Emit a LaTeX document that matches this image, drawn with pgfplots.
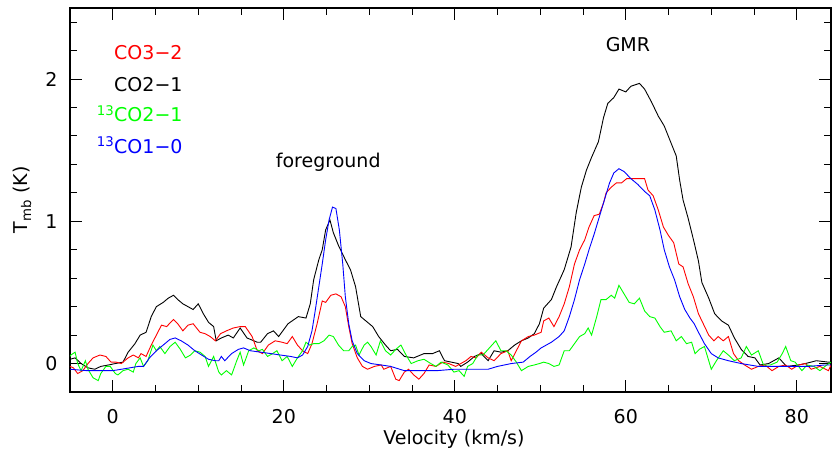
\documentclass[border=0pt]{standalone}
\usepackage{fontspec}
\setmainfont{DejaVu Sans}
\usepackage{pgfplots}
\pgfplotsset{compat=1.18}
\begin{document}
\fontsize{19}{23}\selectfont
\begin{tikzpicture}
\useasboundingbox (-70pt,-60pt) rectangle (762pt,392pt);
\begin{axis}[
  at={(0,0)}, anchor=south west,
  scale only axis, width=761pt, height=384pt,
  xmin=-5, xmax=84, ymin=-0.2, ymax=2.5,
  xtick={0,20,40,60,80}, minor xtick={-5,5,10,15,25,30,35,45,50,55,65,70,75},
  ytick={0,1,2}, minor ytick={-0.2,0.2,0.4,0.6,0.8,1.2,1.4,1.6,1.8,2.2,2.4},
  tick align=inside,
  major tick length=12pt, minor tick length=7pt,
  every tick/.style={black, line width=1pt},
  axis line style={line width=1.2pt},
  /pgf/number format/assume math mode=true,
  tick label style={font=\fontsize{19}{23}\selectfont},
  xticklabel style={yshift=-11pt},
  yticklabel style={xshift=-6pt},
  xlabel={Velocity (km/s)},
  ylabel={T\textsubscript{mb} (K)},
  xlabel style={at={(axis description cs:0.5045,-0.122)}, anchor=center},
  ylabel style={at={(axis description cs:-0.063,0.5)}, anchor=center},
  label style={font=\fontsize{19}{23}\selectfont},
  every axis plot/.append style={line width=0.9pt},
]
% CO2-1 (black)
\addplot[black] coordinates {
(-5.0,0.03)(-4.4,0.04)(-3.7,0.0)(-2.9,-0.03)(-2.1,-0.04)(-1.4,-0.02)(-0.5,-0.01)(0.3,0.0)(1.2,0.01)(1.8,0.08)(2.6,0.14)(3.2,0.2)(3.9,0.22)(4.5,0.33)(5.1,0.40)(5.9,0.43)(6.5,0.46)(7.1,0.48)(7.6,0.45)(8.2,0.42)(8.8,0.40)(9.4,0.38)(10.0,0.42)(10.6,0.35)(11.2,0.29)(11.8,0.26)(12.1,0.16)(12.7,0.18)(13.5,0.2)(14.1,0.18)(14.9,0.25)(15.7,0.18)(16.9,0.15)(17.3,0.15)(18.1,0.21)(18.8,0.23)(19.4,0.19)(20.5,0.28)(21.7,0.33)(22.6,0.32)(23.1,0.42)(23.5,0.59)(24.1,0.73)(24.5,0.80)(24.9,0.94)(25.4,1.01)(25.8,0.92)(26.4,0.83)(27.2,0.73)(27.8,0.66)(28.4,0.54)(29.0,0.33)(29.8,0.29)(30.4,0.26)(31.1,0.19)(31.9,0.13)(32.5,0.09)(33.3,0.10)(34.1,0.05)(35.2,0.04)(36.4,0.07)(37.4,0.07)(38.2,0.09)(38.8,0.02)(39.6,0.01)(40.4,0.0)(40.7,-0.02)(41.5,0.01)(42.3,0.05)(43.1,0.07)(43.9,0.02)(44.6,0.09)(45.4,0.08)(46.2,0.09)(47.0,0.13)(47.8,0.16)(48.6,0.18)(49.3,0.21)(49.9,0.28)(50.4,0.39)(51.3,0.45)(51.9,0.54)(52.8,0.66)(53.6,0.82)(54.2,1.06)(54.8,1.24)(55.4,1.36)(56.0,1.45)(56.8,1.56)(57.4,1.73)(57.9,1.83)(58.6,1.87)(59.2,1.93)(60.0,1.91)(60.6,1.95)(61.6,1.97)(62.2,1.93)(63.0,1.84)(63.8,1.74)(64.5,1.67)(65.3,1.55)(65.9,1.46)(66.3,1.29)(66.7,1.15)(67.3,1.02)(68.0,0.85)(68.5,0.72)(68.9,0.57)(69.7,0.46)(70.4,0.35)(71.2,0.30)(72.0,0.27)(72.7,0.18)(73.5,0.10)(74.3,0.05)(75.1,0.04)(75.7,-0.01)(76.7,0.0)(77.9,0.04)(78.8,-0.02)(80.2,-0.01)(81.0,0.0)(82.3,0.02)(83.7,0.01)(84.0,0.01)
};
% CO3-2 (red)
\addplot[red] coordinates {
(-5.0,-0.02)(-4.6,-0.03)(-4.1,-0.07)(-3.5,-0.05)(-2.9,0.0)(-2.3,0.04)(-1.5,0.06)(-0.8,0.05)(-0.2,0.01)(0.4,0.01)(1.0,0.0)(1.8,0.04)(2.4,0.06)(3.0,0.04)(3.3,0.07)(3.9,0.05)(4.5,0.13)(5.1,0.20)(5.7,0.27)(6.3,0.26)(7.1,0.31)(7.6,0.28)(8.2,0.23)(8.8,0.27)(9.4,0.28)(10.2,0.22)(10.8,0.21)(11.4,0.19)(12.0,0.16)(12.6,0.21)(13.3,0.23)(14.1,0.25)(14.9,0.26)(15.5,0.26)(16.3,0.19)(16.9,0.09)(17.5,0.07)(18.2,0.13)(19.0,0.16)(19.8,0.15)(20.4,0.14)(21.0,0.19)(21.6,0.13)(22.2,0.09)(22.8,0.07)(23.3,0.14)(23.9,0.28)(24.5,0.44)(24.9,0.43)(25.5,0.48)(26.1,0.49)(26.7,0.47)(27.2,0.40)(27.6,0.26)(28.0,0.14)(28.6,0.04)(29.2,-0.02)(29.8,-0.04)(30.6,-0.02)(31.4,-0.01)(31.7,-0.04)(32.5,-0.02)(33.1,-0.11)(33.5,-0.12)(34.1,-0.06)(34.6,-0.04)(35.2,-0.08)(35.8,-0.11)(36.4,-0.07)(37.0,-0.01)(37.8,-0.02)(38.6,0.01)(39.3,0.0)(40.1,-0.02)(40.7,0.0)(41.3,0.02)(41.9,0.05)(42.5,0.04)(43.1,0.08)(43.9,0.04)(44.6,0.02)(45.4,0.07)(46.2,0.09)(46.6,0.02)(47.2,0.09)(47.8,0.16)(48.6,0.19)(49.3,0.20)(50.1,0.22)(50.4,0.30)(51.0,0.32)(51.6,0.26)(52.2,0.33)(52.8,0.42)(53.4,0.54)(54.0,0.70)(54.6,0.80)(55.2,0.87)(55.7,0.96)(56.3,1.04)(56.9,1.05)(57.4,1.13)(57.7,1.20)(58.3,1.24)(58.9,1.27)(59.5,1.27)(60.1,1.30)(61.0,1.30)(62.2,1.30)(62.6,1.22)(63.2,1.18)(63.8,1.08)(64.4,0.96)(65.0,0.90)(65.6,0.85)(66.2,0.70)(66.7,0.68)(67.3,0.56)(67.9,0.47)(68.5,0.35)(68.9,0.30)(69.7,0.20)(70.3,0.16)(70.8,0.19)(71.4,0.16)(72.0,0.19)(72.6,0.07)(73.2,0.02)(73.9,-0.01)(74.7,-0.04)(75.5,-0.02)(76.3,-0.01)(77.1,-0.05)(77.9,-0.02)(78.7,-0.01)(79.4,-0.04)(80.2,-0.01)(81.0,0.0)(81.7,-0.04)(82.7,-0.02)(83.7,-0.05)(84.0,-0.01)
};
% 13CO2-1 (green)
\addplot[green] coordinates {
(-5.0,0.05)(-4.9,0.06)(-4.4,0.08)(-4.1,0.0)(-3.7,-0.05)(-3.2,0.02)(-2.9,-0.04)(-2.3,-0.10)(-1.7,-0.12)(-1.4,-0.07)(-0.8,-0.02)(-0.3,-0.02)(0.3,-0.07)(0.6,-0.08)(1.2,-0.05)(1.8,-0.04)(2.4,-0.06)(2.7,0.0)(3.2,0.04)(3.6,-0.02)(4.1,0.02)(4.7,0.13)(5.1,0.09)(5.5,0.12)(6.1,0.07)(6.7,0.12)(7.3,0.15)(7.9,0.10)(8.5,0.04)(9.1,0.06)(9.6,0.09)(10.2,0.08)(10.8,0.05)(11.2,-0.02)(11.8,0.05)(12.4,-0.06)(12.7,-0.08)(13.3,-0.05)(13.9,-0.08)(14.5,0.02)(14.9,0.08)(15.3,-0.01)(15.9,0.09)(16.5,0.11)(17.1,0.09)(17.5,0.10)(18.1,0.05)(18.7,0.07)(19.2,0.09)(19.8,0.02)(20.4,0.05)(21.0,-0.02)(21.6,0.04)(22.2,0.09)(22.6,0.15)(23.0,0.13)(23.5,0.14)(24.1,0.14)(24.7,0.16)(25.3,0.20)(25.8,0.19)(26.4,0.13)(27.0,0.09)(27.6,0.09)(28.0,0.12)(28.4,0.13)(28.8,0.06)(29.4,0.13)(29.8,0.15)(30.2,0.12)(30.8,0.06)(31.3,0.16)(31.9,0.09)(32.5,0.06)(33.1,0.10)(33.7,0.13)(34.3,0.06)(34.9,0.0)(35.7,0.02)(36.4,0.03)(37.2,0.0)(37.8,-0.02)(38.4,0.01)(39.2,-0.01)(39.9,-0.06)(40.5,-0.05)(41.1,-0.09)(41.5,-0.02)(42.1,0.0)(42.7,0.06)(43.3,0.06)(43.9,0.10)(44.5,0.14)(44.8,0.16)(45.4,0.09)(46.0,0.09)(46.6,0.06)(47.2,0.01)(47.8,-0.05)(48.6,-0.02)(49.3,-0.01)(49.9,0.0)(50.4,0.01)(51.0,0.0)(51.6,-0.02)(52.2,-0.01)(52.8,0.09)(53.4,0.09)(54.0,0.14)(54.6,0.19)(55.2,0.21)(55.6,0.25)(56.0,0.20)(56.6,0.33)(57.1,0.45)(57.7,0.45)(58.3,0.48)(58.7,0.46)(59.2,0.55)(59.8,0.49)(60.4,0.43)(61.0,0.42)(61.6,0.46)(62.2,0.37)(62.8,0.33)(63.4,0.32)(64.0,0.26)(64.5,0.22)(65.3,0.23)(65.9,0.16)(66.5,0.19)(67.1,0.14)(67.7,0.15)(68.1,0.07)(68.6,0.10)(69.2,0.12)(70.0,-0.04)(70.6,0.02)(71.4,0.09)(72.0,0.06)(72.7,0.02)(73.5,0.04)(74.1,0.12)(74.7,0.06)(75.5,0.09)(76.1,-0.01)(76.9,-0.01)(77.7,0.01)(78.3,0.07)(78.7,0.12)(79.3,0.02)(79.8,0.01)(80.6,-0.05)(81.2,-0.01)(82.0,-0.02)(82.7,-0.05)(83.5,-0.01)(84.0,0.01)
};
% 13CO1-0 (blue)
\addplot[blue] coordinates {
(-5.0,-0.04)(-3.0,-0.05)(-1.0,-0.05)(0.0,-0.05)(1.0,-0.04)(2.0,-0.03)(3.0,-0.02)(3.6,-0.02)(4.3,0.04)(5.1,0.09)(5.9,0.13)(6.7,0.17)(7.3,0.18)(8.0,0.16)(8.8,0.13)(9.6,0.09)(10.4,0.06)(11.2,0.03)(12.0,0.02)(12.4,0.02)(12.7,0.05)(13.1,0.02)(13.9,0.07)(14.7,0.10)(15.3,0.11)(16.1,0.09)(17.3,0.08)(18.5,0.07)(19.6,0.06)(20.8,0.05)(21.6,0.04)(22.2,0.06)(22.8,0.12)(23.3,0.23)(23.7,0.38)(24.1,0.54)(24.5,0.70)(24.9,0.87)(25.3,1.01)(25.7,1.10)(26.1,1.09)(26.5,0.94)(26.9,0.70)(27.2,0.47)(27.6,0.28)(28.0,0.16)(28.6,0.07)(29.4,0.02)(30.2,0.0)(31.4,-0.01)(32.5,-0.02)(34.1,-0.05)(36.0,-0.05)(37.9,-0.05)(39.9,-0.04)(41.9,-0.04)(43.9,-0.04)(45.0,-0.02)(46.6,0.0)(48.0,0.01)(48.8,0.05)(49.5,0.08)(50.1,0.11)(51.3,0.15)(52.2,0.19)(52.8,0.23)(53.4,0.33)(54.0,0.45)(54.6,0.59)(55.2,0.70)(55.7,0.80)(56.3,0.91)(56.9,1.03)(57.5,1.15)(58.1,1.27)(58.6,1.34)(59.2,1.37)(59.8,1.35)(60.6,1.30)(61.4,1.26)(62.2,1.21)(62.8,1.18)(63.4,1.08)(64.0,0.94)(64.5,0.80)(65.1,0.68)(65.7,0.59)(66.3,0.47)(66.9,0.38)(67.5,0.32)(68.0,0.28)(68.5,0.22)(69.2,0.14)(70.0,0.07)(70.8,0.04)(72.0,0.02)(73.5,0.0)(75.5,-0.02)(77.5,-0.02)(79.4,-0.02)(81.4,-0.02)(83.3,-0.01)(84.0,-0.01)
};
\node[anchor=base west, inner sep=0pt, text=red] at (axis cs:0.15,2.136) {CO3−2};
\node[anchor=base west, inner sep=0pt, text=black] at (axis cs:0.15,1.911) {CO2−1};
\node[anchor=base west, inner sep=0pt, text=green] at (axis cs:0.15,1.70) {\llap{\textsuperscript{13}}CO2−1};
\node[anchor=base west, inner sep=0pt, text=blue] at (axis cs:0.15,1.48) {\llap{\textsuperscript{13}}CO1−0};
\node[anchor=base, inner sep=0pt] at (axis cs:25.2,1.38) {foreground};
\node[anchor=base, inner sep=0pt] at (axis cs:60.25,2.195) {GMR};
\end{axis}
\end{tikzpicture}
\end{document}
